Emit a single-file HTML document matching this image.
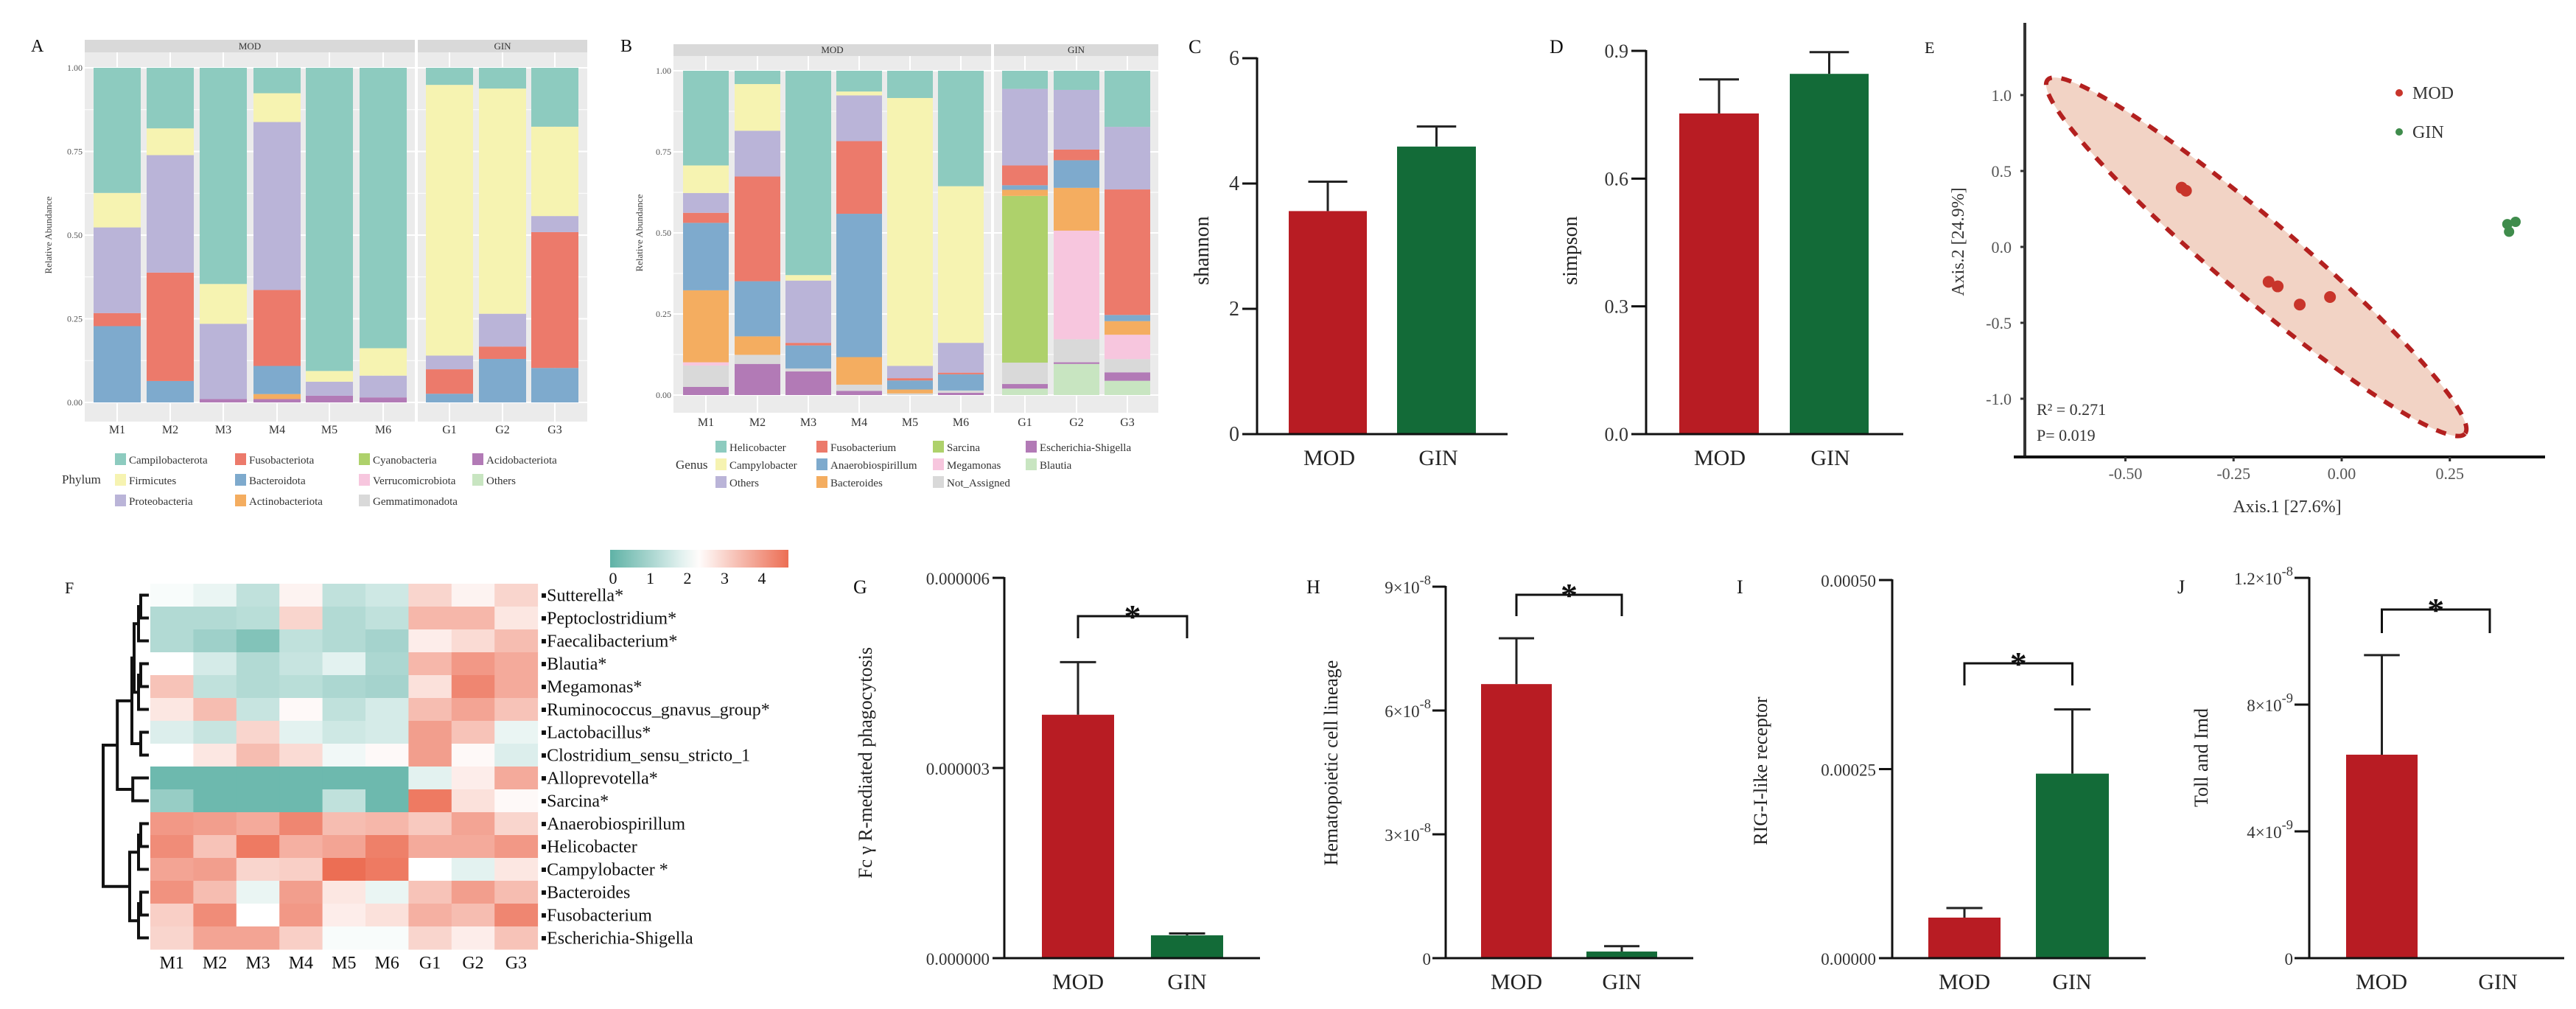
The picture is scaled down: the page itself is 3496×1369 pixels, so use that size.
<!DOCTYPE html>
<html><head><meta charset="utf-8">
<style>
html,body{margin:0;padding:0;background:#fff;}
svg{display:block;font-family:"Liberation Serif","DejaVu Serif",serif;}
svg text{font-family:"Liberation Serif","DejaVu Serif",serif;}
</style></head>
<body>
<svg id="fig" width="3496" height="1369" viewBox="0 0 3496 1369" xmlns="http://www.w3.org/2000/svg" font-family="Liberation Serif, DejaVu Serif, serif">
<rect x="0" y="0" width="3496" height="1369" fill="#fff"/>
</svg>
<script>
// ---------- DATA ----------
const samples = ["M1","M2","M3","M4","M5","M6","G1","G2","G3"];
// Panel A phylum stacks (bottom -> top)
const phylaA = ["Acidobacteriota","Actinobacteriota","Bacteroidota","Fusobacteriota","Proteobacteria","Firmicutes","Campilobacterota"];
const aAcido  = [0,0,.01,.01,.02,.015,0,0,0];
const aActino = [0,0,0,.015,0,0,0,0,0];
const aBact   = [.228,.064,0,.084,0,0,.026,.130,.103];
const aFuso   = [.039,.324,0,.227,0,0,.073,.037,.406];
const aProt   = [.256,.351,.225,.502,.042,.065,.041,.098,.048];
const aFirm   = [.103,.080,.119,.086,.032,.082,.809,.673,.267];
const aCamp   = [.374,.181,.646,.076,.906,.838,.051,.062,.176];
// Panel B genus stacks (bottom -> top)
const generaB = ["Blautia","Escherichia-Shigella","Not_Assigned","Megamonas","Sarcina","Bacteroides","Anaerobiospirillum","Fusobacterium","Others","Campylobacter","Helicobacter"];
const bBlautia = [0,0,0,0,0,0,.02,.096,.044];
const bEsch    = [.025,.096,.073,.013,0,.007,.014,.005,.026];
const bNotA    = [.066,.028,.009,.019,.005,.007,.066,.071,.041];
const bMega    = [.01,0,0,0,0,0,0,.335,.075];
const bSarc    = [0,0,0,0,0,0,.514,0,0];
const bBacte   = [.222,.057,0,.085,.012,0,.019,.132,.042];
const bAnaer   = [.208,.17,.071,.442,.028,.05,.014,.085,.019];
const bFuso    = [.031,.323,.008,.224,.007,.005,.061,.033,.387];
const bOthers  = [.061,.141,.192,.141,.038,.092,.236,.184,.193];
const bCampy   = [.085,.144,.017,.012,.826,.483,0,0,0];
const bHelico  = [.292,.041,.63,.064,.084,.356,.056,.059,.173];
const stackTicks = [0,.25,.5,.75,1];
const stackTickLabels = ["0.00","0.25","0.50","0.75","1.00"];
// Panel C / D
const groups = ["MOD","GIN"];
const shannonMean = [3.56,4.59];
const shannonErr  = [4.03,4.91];
const shannonTicks = [0,2,4,6];
const simpsonMean = [0.753,0.846];
const simpsonErr  = [0.833,0.897];
const simpsonTicks = [0,0.3,0.6,0.9];
const simpsonTickLabels = ["0.0","0.3","0.6","0.9"];
// Panel E PCoA
const modX = [-0.37,-0.36,-0.169,-0.148,-0.097,-0.027];
const modY = [0.39,0.37,-0.23,-0.26,-0.38,-0.33];
const ginX = [0.383,0.402,0.387];
const ginY = [0.15,0.165,0.10];
const ellipseTipA = [-0.68,1.10];
const ellipseTipB = [0.285,-1.23];
const pcoaXTicks = [-0.5,-0.25,0,0.25];
const pcoaXTickLabels = ["-0.50","-0.25","0.00","0.25"];
const pcoaYTicks = [-1,-0.5,0,0.5,1];
const pcoaYTickLabels = ["-1.0","-0.5","0.0","0.5","1.0"];
// Panel F heatmap
const taxaF = ["Sutterella*","Peptoclostridium*","Faecalibacterium*","Blautia*","Megamonas*","Ruminococcus_gnavus_group*","Lactobacillus*","Clostridium_sensu_stricto_1","Alloprevotella*","Sarcina*","Anaerobiospirillum","Helicobacter","Campylobacter *","Bacteroides","Fusobacterium","Escherichia-Shigella"];
const heat = [
 [2.2,2.0,1.4,2.5,1.4,1.6,3.0,2.5,3.0],
 [1.2,1.2,1.3,3.0,1.2,1.4,3.5,3.5,2.7],
 [1.2,0.9,0.5,1.4,1.2,1.0,2.6,2.9,3.4],
 [2.3,1.7,1.2,1.5,1.9,1.1,3.5,4.0,3.7],
 [3.3,1.4,1.2,1.3,1.1,1.0,2.8,4.3,3.7],
 [2.7,3.4,1.5,2.4,1.4,1.7,3.4,3.8,3.3],
 [1.8,1.5,3.0,1.9,1.6,1.7,3.9,3.3,2.0],
 [2.3,2.7,3.4,2.9,2.1,2.4,3.9,2.4,1.8],
 [0.2,0.2,0.2,0.2,0.2,0.2,1.9,2.6,3.7],
 [0.8,0.2,0.2,0.2,1.4,0.2,4.5,2.8,2.4],
 [4.0,3.9,3.7,4.3,3.4,3.5,3.2,3.8,3.0],
 [4.2,3.3,4.5,3.6,3.8,4.4,3.7,3.7,4.0],
 [3.8,3.9,3.0,3.1,4.7,4.5,2.3,1.9,2.7],
 [4.1,3.4,2.0,3.9,2.7,2.0,3.3,3.9,3.4],
 [3.1,4.2,2.3,4.0,2.6,2.8,3.6,3.4,4.3],
 [3.0,3.8,3.8,3.1,2.2,2.2,3.0,2.6,3.3]
];
const heatTicks = [0,1,2,3,4];
// Panels G-J
const gMean = [3.84e-6,0.36e-6], gErr = [4.67e-6,0.39e-6];
const gTicks = [0,3e-6,6e-6], gTickLabels = ["0.000000","0.000003","0.000006"];
const hMean = [6.64e-8,0.16e-8], hErr = [7.75e-8,0.29e-8];
const hTicks = [0,3e-8,6e-8,9e-8], hTickLabels = [["0",""],["3×10","-8"],["6×10","-8"],["9×10","-8"]];
const iMean = [0.0000536,0.000244], iErr = [0.0000663,0.000329];
const iTicks = [0,0.00025,0.0005], iTickLabels = ["0.00000","0.00025","0.00050"];
const jMean = [6.42e-9,0], jErr = [9.56e-9,0];
const jTicks = [0,4e-9,8e-9,1.2e-8], jTickLabels = [["0",""],["4×10","-9"],["8×10","-9"],["1.2×10","-8"]];

// ---------- HELPERS ----------
const NS="http://www.w3.org/2000/svg";
const svg=document.getElementById('fig');
const FONT='"Liberation Serif", "DejaVu Serif", serif';
function mk(tag,attrs,parent){const e=document.createElementNS(NS,tag);for(const k in attrs)e.setAttribute(k,attrs[k]);(parent||svg).appendChild(e);return e;}
function tx(x,y,s,size,anchor,fill,parent){const e=mk('text',{x:x,y:y,'font-size':size,'text-anchor':anchor||'start',fill:fill||'#111','font-family':FONT},parent);e.textContent=s;return e;}
function grp(){return mk('g',{});}
const RED="#b81c23", GREEN="#136b38";

// ---------- STACKED PANELS ----------
function stackPanel(o){
  const g=grp();
  
  
  const ys=v=>o.y0+(o.y1-o.y0)*v;
  const s1=mk('rect',{x:o.bx0,y:o.sy0,width:o.split-o.bx0,height:o.sy1-o.sy0,fill:'#d9d9d9'},g);
  
  
  const s2=mk('rect',{x:o.split+4,y:o.sy0,width:o.bx1-o.split-4,height:o.sy1-o.sy0,fill:'#d9d9d9'},g);
  
  
  tx((o.bx0+o.split)/2,o.sy1-4,'MOD',13,'middle','#333',g);
  tx((o.split+4+o.bx1)/2,o.sy1-4,'GIN',13,'middle','#333',g);
  const p1=mk('rect',{x:o.bx0,y:o.sy1,width:o.split-o.bx0,height:o.py1-o.sy1,fill:'#ebebeb'},g);
  
  
  const p2=mk('rect',{x:o.split+4,y:o.sy1,width:o.bx1-o.split-4,height:o.py1-o.sy1,fill:'#ebebeb'},g);
  
  
  for(let t=0;t<=1.0001;t+=0.125){
    const y=ys(t);
    [[o.bx0,o.split],[o.split+4,o.bx1]].forEach(r=>{
      const l=mk('line',{x1:r[0],x2:r[1],y1:y,y2:y,stroke:'#fff','stroke-width':(Math.round(t*8)%2===0)?2:1},g);
      
      
    });
  }
  o.centers.forEach(c=>{
    const l=mk('line',{x1:c,x2:c,y1:o.sy1,y2:o.py1,stroke:'#fff','stroke-width':2},g);
    
    
  });
  samples.forEach((s,i)=>{
    let acc=0;
    o.series.forEach((arr,k)=>{
      const v=arr[i]; if(v<=0){return;}
      const yTop=ys(acc+v), yBot=ys(acc);
      const r=mk('rect',{x:o.centers[i]-o.bw/2,y:yTop,width:o.bw,height:Math.max(0.5,yBot-yTop),fill:o.colors[k]},g);
      
      
      acc+=v;
    });
    tx(o.centers[i],o.xly,s,16,'middle','#333',g);
  });
  stackTicks.forEach((t,i)=>{tx(o.bx0-3,ys(t)+4,stackTickLabels[i],12,'end','#555',g);});
  const yt=tx(0,0,'Relative Abundance',13,'middle','#444',g);
  yt.setAttribute('transform','translate('+o.ytx+','+((o.y0+o.y1)/2)+') rotate(-90)');
  tx(o.legLabel[0],o.legLabel[1],o.legTitle,17,'start','#333',g);
  o.legend.forEach(it=>{
    const sw=mk('rect',{x:it[0],y:it[1]-13,width:15,height:16,fill:o.colors[o.names.indexOf(it[2])]||it[3]},g);
    
    
    tx(it[0]+19,it[1]+1,it[2],15,'start','#333',g);
  });
}
const colA=["#b27ab6","#f4ad60","#7eaacd","#ec7a6b","#bab4d8","#f6f3b1","#8dcbbf"];
stackPanel({name:'panel-a-phylum',bx0:115,bx1:797,split:563,sy0:54,sy1:71,py1:572,y0:546,y1:92,bw:64,
  centers:[159,231,303,376,447,520,610,682,753],xly:588,ytx:70,
  series:[aAcido,aActino,aBact,aFuso,aProt,aFirm,aCamp],colors:colA,names:phylaA,
  legTitle:'Phylum',legLabel:[84,656],
  legend:[[156,628,'Campilobacterota'],[156,656,'Firmicutes'],[156,684,'Proteobacteria'],
   [319,628,'Fusobacteriota'],[319,656,'Bacteroidota'],[319,684,'Actinobacteriota'],
   [487,628,'Cyanobacteria','#aed16b'],[487,656,'Verrucomicrobiota','#f7c6de'],[487,684,'Gemmatimonadota','#d9d9d9'],
   [641,628,'Acidobacteriota'],[641,656,'Others','#c8e5c1']]});
const colB=["#c8e5c1","#b27ab6","#d9d9d9","#f7c6de","#aed16b","#f4ad60","#7eaacd","#ec7a6b","#bab4d8","#f6f3b1","#8dcbbf"];
stackPanel({name:'panel-b-genus',bx0:914,bx1:1572,split:1345,sy0:60,sy1:76,py1:560,y0:536,y1:96,bw:62,
  centers:[958,1028,1097,1166,1235,1304,1391,1461,1530],xly:578,ytx:872,
  series:[bBlautia,bEsch,bNotA,bMega,bSarc,bBacte,bAnaer,bFuso,bOthers,bCampy,bHelico],colors:colB,names:generaB,
  legTitle:'Genus',legLabel:[917,636],
  legend:[[971,611,'Helicobacter'],[971,635,'Campylobacter'],[971,659,'Others'],
   [1108,611,'Fusobacterium'],[1108,635,'Anaerobiospirillum'],[1108,659,'Bacteroides'],
   [1266,611,'Sarcina'],[1266,635,'Megamonas'],[1266,659,'Not_Assigned'],
   [1392,611,'Escherichia-Shigella'],[1392,635,'Blautia']]});
tx(42,70,'A',24,'start','#111');
tx(842,70,'B',24,'start','#111');

// ---------- BAR PANELS ----------
function barPanel(o){
  const g=grp();
  
  
  const ys=v=>o.y0-(o.y0-o.yTop)*(v/o.max);
  o.means.forEach((m,i)=>{
    const x0=o.bars[i][0], x1=o.bars[i][1];
    if(m>0){
      const r=mk('rect',{x:x0,y:ys(m),width:x1-x0,height:o.y0-ys(m),fill:i===0?RED:GREEN},g);
      
      
      const c=(x0+x1)/2, hw=(x1-x0)*0.25;
      const e1=mk('line',{x1:c,x2:c,y1:ys(m),y2:ys(o.errs[i]),stroke:'#222','stroke-width':3},g);
      
      
      const e2=mk('line',{x1:c-hw,x2:c+hw,y1:ys(o.errs[i]),y2:ys(o.errs[i]),stroke:'#222','stroke-width':3},g);
      
      
    }
    tx(o.labelX[i],o.y0+42,groups[i],30,'middle','#222',g);
  });
  const ax=mk('line',{x1:o.ax,x2:o.ax,y1:o.yTop-1,y2:o.y0,stroke:'#111','stroke-width':3},g);
  
  
  const bx=mk('line',{x1:o.ax-o.tl,x2:o.xEnd,y1:o.y0,y2:o.y0,stroke:'#111','stroke-width':3},g);
  
  
  o.ticks.forEach((t,i)=>{
    const y=ys(t);
    const tk=mk('line',{x1:o.ax-o.tl,x2:o.ax,y1:y,y2:y,stroke:'#111','stroke-width':3},g);
    
    
    const lab=o.tickLabels[i];
    if(Array.isArray(lab)){
      const t1=tx(o.ax-o.tl-2,y+9,'',o.tfs,'end','#333',g);
      const a=document.createElementNS(NS,'tspan');a.textContent=lab[0];t1.appendChild(a);
      if(lab[1]){const b=document.createElementNS(NS,'tspan');b.setAttribute('dy','-12');b.setAttribute('font-size',o.tfs*0.8);b.textContent=lab[1];t1.appendChild(b);}
    } else tx(o.ax-o.tl-4,y+9,lab,o.tfs,'end','#333',g);
  });
  const yt=tx(0,0,o.ytitle,o.ytfs,'middle','#222',g);
  yt.setAttribute('transform','translate('+o.ytx+','+o.yty+') rotate(-90)');
  tx(o.letter[0],o.letter[1],o.letter[2],26,'start','#111',g);
  if(o.br){
    const c0=(o.bars[0][0]+o.bars[0][1])/2, c1=(o.bars[1][0]+o.bars[1][1])/2;
    const p=mk('path',{d:'M'+c0+','+o.br[1]+' V'+o.br[0]+' H'+c1+' V'+o.br[1],fill:'none',stroke:'#111','stroke-width':3},g);
    
    
    const st=tx((c0+c1)/2,o.br[0]-6,'*',46,'middle','#111',g);
    st.setAttribute('font-weight','bold');
    st.setAttribute('dy','22');
  }
}
barPanel({name:'panel-c-shannon',ax:1706,tl:20,xEnd:2046,y0:589,yTop:79,max:6,means:shannonMean,errs:shannonErr,
  bars:[[1749,1855],[1896,2003]],labelX:[1804,1952],ticks:shannonTicks,tickLabels:["0","2","4","6"],tfs:28,
  ytitle:'shannon',ytfs:28,ytx:1640,yty:340,letter:[1613,72,'C']});
barPanel({name:'panel-d-simpson',ax:2234,tl:20,xEnd:2583,y0:589,yTop:69,max:0.9,means:simpsonMean,errs:simpsonErr,
  bars:[[2279,2387],[2429,2536]],labelX:[2334,2484],ticks:simpsonTicks,tickLabels:simpsonTickLabels,tfs:26,
  ytitle:'simpson',ytfs:28,ytx:2140,yty:340,letter:[2103,72,'D']});
barPanel({name:'panel-g',ax:1363,tl:16,xEnd:1710,y0:1300,yTop:784,max:6e-6,means:gMean,errs:gErr,
  bars:[[1414,1512],[1562,1660]],labelX:[1463,1611],ticks:gTicks,tickLabels:gTickLabels,tfs:23,
  ytitle:'Fc γ R-mediated phagocytosis',ytfs:26,ytx:1183,yty:1035,letter:[1158,805,'G'],br:[836,866]});
barPanel({name:'panel-h',ax:1962,tl:18,xEnd:2298,y0:1300,yTop:796,max:9e-8,means:hMean,errs:hErr,
  bars:[[2010,2106],[2153,2249]],labelX:[2058,2201],ticks:hTicks,tickLabels:hTickLabels,tfs:23,
  ytitle:'Hematopoietic cell lineage',ytfs:26,ytx:1815,yty:1035,letter:[1773,805,'H'],br:[807,836]});
barPanel({name:'panel-i',ax:2568,tl:18,xEnd:2912,y0:1300,yTop:787,max:0.0005,means:iMean,errs:iErr,
  bars:[[2617,2715],[2763,2862]],labelX:[2666,2812],ticks:iTicks,tickLabels:iTickLabels,tfs:23,
  ytitle:'RIG-I-like receptor',ytfs:26,ytx:2398,yty:1046,letter:[2357,805,'I'],br:[900,930]});
barPanel({name:'panel-j',ax:3134,tl:20,xEnd:3480,y0:1300,yTop:784,max:1.2e-8,means:jMean,errs:jErr,
  bars:[[3184,3281],[3330,3428]],labelX:[3232,3390],ticks:jTicks,tickLabels:jTickLabels,tfs:23,
  ytitle:'Toll and Imd',ytfs:26,ytx:2996,yty:1028,letter:[2955,805,'J'],br:[827,859]});

// ---------- PANEL E ----------
(function(){
  const g=grp();
  
  
  const X0=3178, KX=587, Y0=335, KY=206;
  const px=v=>X0+v*KX, py=v=>Y0-v*KY;
  const ax1=px(ellipseTipA[0]),ay1=py(ellipseTipA[1]),ax2=px(ellipseTipB[0]),ay2=py(ellipseTipB[1]);
  const cx=(ax1+ax2)/2, cy=(ay1+ay2)/2, rx=Math.hypot(ax2-ax1,ay2-ay1)/2, ang=Math.atan2(ay2-ay1,ax2-ax1)*180/Math.PI;
  const el=mk('ellipse',{cx:cx,cy:cy,rx:rx,ry:52,transform:'rotate('+ang+' '+cx+' '+cy+')',fill:'#f2d3c5',stroke:'#b3201f','stroke-width':6,'stroke-dasharray':'14 13'},g);
  
  
  modX.forEach((v,i)=>{const c=mk('circle',{cx:px(v),cy:py(modY[i]),r:8,fill:'#c8352b'},g);
    
    });
  ginX.forEach((v,i)=>{const c=mk('circle',{cx:px(v),cy:py(ginY[i]),r:7,fill:'#3f8c4c'},g);
    
    });
  const ya=mk('line',{x1:2748,x2:2748,y1:31,y2:620,stroke:'#333','stroke-width':4},g);
  
  
  const xa=mk('line',{x1:2733,x2:3454,y1:620,y2:620,stroke:'#111','stroke-width':4},g);
  
  
  pcoaXTicks.forEach((t,i)=>{
    const tk=mk('line',{x1:px(t),x2:px(t),y1:620,y2:626,stroke:'#333','stroke-width':3},g);
    
    
    tx(px(t),650,pcoaXTickLabels[i],22,'middle','#555',g);});
  pcoaYTicks.forEach((t,i)=>{
    const tk=mk('line',{x1:2742,x2:2748,y1:py(t),y2:py(t),stroke:'#333','stroke-width':3},g);
    
    
    tx(2730,py(t)+8,pcoaYTickLabels[i],22,'end','#555',g);});
  tx(3104,695,'Axis.1   [27.6%]',24,'middle','#333',g);
  const yt=tx(0,0,'Axis.2   [24.9%]',24,'middle','#333',g);
  yt.setAttribute('transform','translate(2665,328) rotate(-90)');
  tx(2764,563,'R² = 0.271',22,'start','#333',g);
  tx(2764,598,'P= 0.019',22,'start','#333',g);
  const l1=mk('circle',{cx:3256,cy:126,r:5,fill:'#c8352b'},g);
  
  
  tx(3274,134,'MOD',24,'start','#333',g);
  const l2=mk('circle',{cx:3256,cy:179,r:5,fill:'#3f8c4c'},g);
  
  
  tx(3274,187,'GIN',24,'start','#333',g);
  tx(2612,72,'E',22,'start','#111',g);
})();

// ---------- PANEL F HEATMAP ----------
(function(){
  const g=grp();
  
  
  const HX=204, HY=792, CW=58.4, RH=31, VMAX=4.7, VMID=2.3;
  const lo=[95,178,166], mid=[255,255,255], hi=[236,110,84];
  function col(v){let a,b,t;if(v<VMID){a=lo;b=mid;t=v/VMID;}else{a=mid;b=hi;t=(v-VMID)/(VMAX-VMID);}
    t=Math.max(0,Math.min(1,t));return 'rgb('+a.map((c,i)=>Math.round(c+(b[i]-c)*t)).join(',')+')';}
  heat.forEach((row,r)=>{
    row.forEach((v,c)=>{
      const cell=mk('rect',{x:HX+c*CW,y:HY+r*RH,width:CW+0.5,height:RH+0.5,fill:col(v)},g);
      
      
    });
    tx(HX+9*CW+4,HY+r*RH+RH/2+8,'▪'+taxaF[r],24,'start','#111',g);
  });
  samples.forEach((s,c)=>{tx(HX+c*CW+CW/2,1314,s,24,'middle','#111',g);});
  const defs=mk('defs',{},g);
  const lg=mk('linearGradient',{id:'cbar',x1:0,x2:1,y1:0,y2:0},defs);
  for(let k=0;k<=10;k++){mk('stop',{offset:(k/10),'stop-color':col(VMAX*k/10)},lg);}
  const cb=mk('rect',{x:828,y:746,width:242,height:24,fill:'url(#cbar)'},g);
  
  
  heatTicks.forEach(t=>{tx(832+t*50.5,792,String(t),22,'middle','#111',g);});
  const rowY=i=>HY+i*RH+RH/2, hx=h=>HX-4-h*60;
  function node(a,b,h){const ya=(typeof a==='number')?rowY(a):a.y, yb=(typeof b==='number')?rowY(b):b.y;
    const xa=(typeof a==='number')?HX-2:a.x, xb=(typeof b==='number')?HX-2:b.x, x=hx(h);
    const p=mk('path',{d:'M'+xa+','+ya+' H'+x+' V'+yb+' H'+xb,fill:'none',stroke:'#111','stroke-width':4},g);
    
    
    return {x:x,y:(ya+yb)/2};}
  const A2=node(node(0,1,.15),2,.2), B2=node(node(3,4,.15),5,.2), C=node(6,7,.15);
  const T2=node(node(A2,B2,.3),C,.35), D=node(8,9,.33), T3=node(T2,D,.68);
  const E2=node(node(10,11,.15),12,.2), F2=node(node(13,14,.15),15,.2), E3=node(E2,F2,.4);
  node(T3,E3,1.0);
  tx(88,805,'F',22,'start','#111',g);
})();
</script>
</body></html>
